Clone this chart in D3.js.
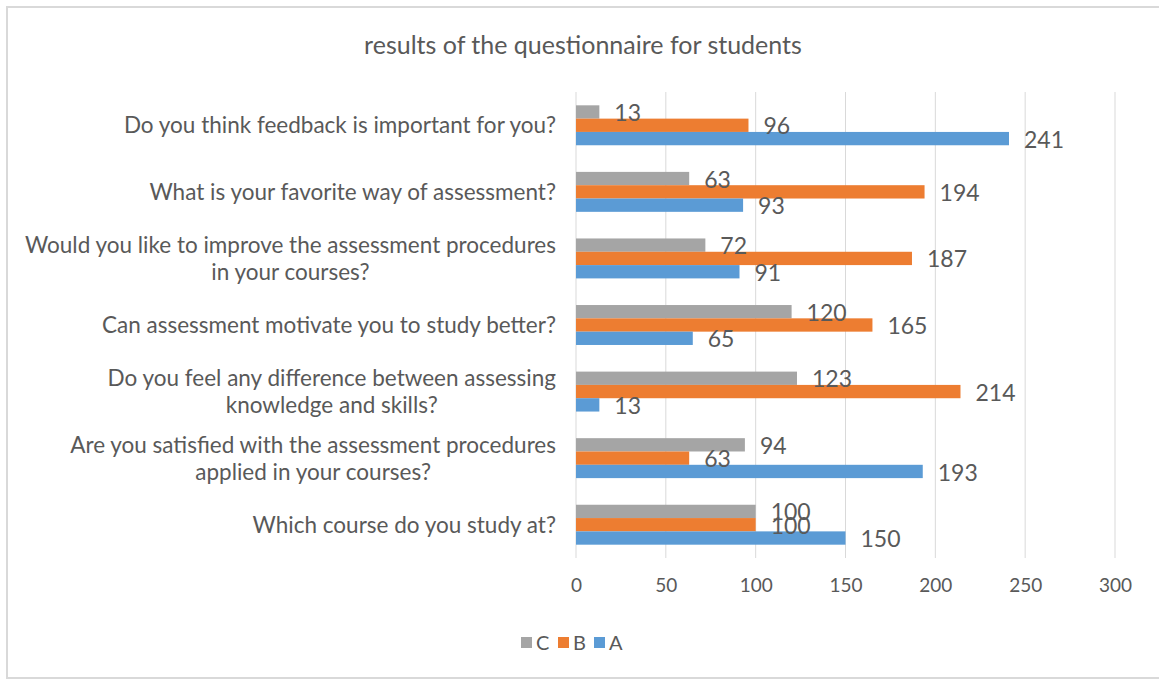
<!DOCTYPE html>
<html><head><meta charset="utf-8">
<script src="https://cdn.jsdelivr.net/npm/d3@7"></script>
<style>html,body{margin:0;padding:0;background:#fff;}svg{display:block;}</style>
</head><body>
<svg id="chart" width="1159" height="681"></svg>
<script>
// Categories, top to bottom as shown
const categories = [
  ["Do you think feedback is important for you?"],
  ["What is your favorite way of assessment?"],
  ["Would you like to improve the assessment procedures", "in your courses?"],
  ["Can assessment motivate you to study better?"],
  ["Do you feel any difference between assessing", "knowledge and skills?"],
  ["Are you satisfied with the assessment procedures", "applied in your courses?"],
  ["Which course do you study at?"]
];
const seriesNames = ["C", "B", "A"];
const valuesC = [13, 63, 72, 120, 123, 94, 100];
const valuesB = [96, 194, 187, 165, 214, 63, 100];
const valuesA = [241, 93, 91, 65, 13, 193, 150];
const xTicks = [0, 50, 100, 150, 200, 250, 300];
const colors = {C: "#a5a5a5", B: "#ed7d31", A: "#5b9bd5"};
const title = "results of the questionnaire for students";

const FONT = "Lato, 'Liberation Sans', sans-serif";
const TXT = "#595959";
const svg = d3.select("#chart");

svg.append("rect").attr("x", 7).attr("y", 7).attr("width", 1160).attr("height", 671)
  .attr("fill", "#fff").attr("stroke", "#d9d9d9").attr("stroke-width", 2);

const x = d3.scaleLinear().domain([0, 300]).range([576, 1115]);
const y = d3.scaleBand().domain(d3.range(categories.length)).range([92, 558])
  .paddingInner(0.4).paddingOuter(0.2);
const ys = d3.scaleBand().domain(seriesNames).range([0, y.bandwidth()]);

// gridlines
svg.append("g").selectAll("line").data(xTicks).join("line")
  .attr("x1", d => x(d)).attr("x2", d => x(d))
  .attr("y1", 92).attr("y2", 558)
  .attr("stroke", "#d9d9d9").attr("stroke-width", 1);

// x axis labels
const xAxis = d3.axisBottom(x).tickValues(xTicks).tickSize(0).tickPadding(0);
const gx = svg.append("g").attr("transform", "translate(0,578)").call(xAxis);
gx.select(".domain").remove();
gx.selectAll("text").attr("font-family", FONT).attr("font-size", 19).attr("fill", TXT);

// title
svg.append("text").attr("x", 583).attr("y", 54).attr("text-anchor", "middle")
  .attr("font-family", FONT).attr("font-size", 25).attr("fill", TXT).text(title);

const data = [];
categories.forEach((c, i) => {
  data.push({i, s: "C", v: valuesC[i]});
  data.push({i, s: "B", v: valuesB[i]});
  data.push({i, s: "A", v: valuesA[i]});
});

svg.append("g").selectAll("rect").data(data).join("rect")
  .attr("x", x(0))
  .attr("y", d => y(d.i) + ys(d.s))
  .attr("width", d => x(d.v) - x(0))
  .attr("height", ys.bandwidth())
  .attr("fill", d => colors[d.s]);

svg.append("g").selectAll("text").data(data).join("text")
  .attr("x", d => x(d.v) + 15)
  .attr("y", d => y(d.i) + ys(d.s) + ys.bandwidth() / 2 + 1)
  .attr("dy", "0.35em")
  .attr("font-family", FONT).attr("font-size", 23).attr("fill", TXT)
  .text(d => d.v);

// category labels
const labelRight = 556;
categories.forEach((lines, i) => {
  const cy = y(i) + y.bandwidth() / 2;
  const g = svg.append("g");
  const lh = 27;
  const texts = lines.map((t, k) => g.append("text")
    .attr("y", cy + (k - (lines.length - 1) / 2) * lh)
    .attr("dy", "0.35em")
    .attr("font-family", FONT).attr("font-size", 22.5).attr("fill", TXT)
    .attr("text-anchor", "middle").text(t));
  const widths = texts.map(t => t.node().getComputedTextLength());
  const maxW = d3.max(widths);
  texts.forEach(t => t.attr("x", labelRight - maxW / 2));
});

// legend
const legend = svg.append("g").attr("transform", "translate(521,637)");
const legX = [0, 37, 73];
seriesNames.forEach((s, k) => {
  legend.append("rect").attr("x", legX[k]).attr("y", 0).attr("width", 11).attr("height", 11)
    .attr("fill", colors[s]);
  legend.append("text").attr("x", legX[k] + 15).attr("y", 6).attr("dy", "0.35em")
    .attr("font-family", FONT).attr("font-size", 20).attr("fill", TXT).text(s);
});
</script>
</body></html>
